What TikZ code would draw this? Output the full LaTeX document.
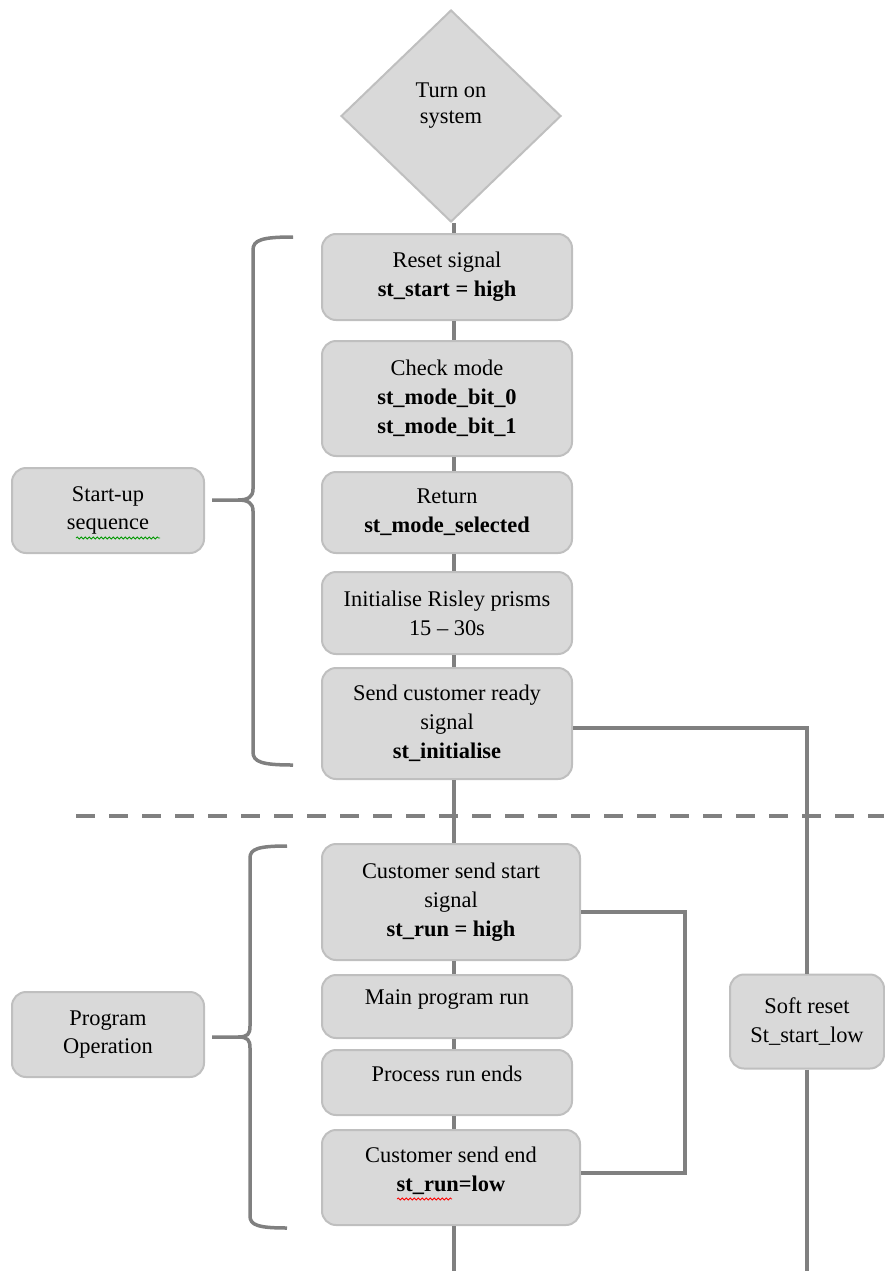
\documentclass[tikz,border=0pt]{standalone}
\usepackage{fontspec}
\setmainfont{Liberation Serif}
\usetikzlibrary{shapes.geometric,decorations.pathmorphing}
\definecolor{boxfill}{HTML}{D9D9D9}
\definecolor{boxline}{HTML}{BFBFBF}
\definecolor{wirecol}{HTML}{808080}
\begin{document}
\begin{tikzpicture}[x=1pt,y=-1pt,
  stepbox/.style={draw=boxline, line width=2pt, fill=boxfill, rounded corners=14pt,
    align=center, inner sep=0pt, text=black,
    font=\fontsize{22.4}{28.8}\selectfont},
  wire/.style={draw=wirecol, line width=4pt, line join=miter},
  bracewire/.style={draw=wirecol, line width=3.5pt, line join=round},
  squiggle/.style={line width=0.8pt, decorate,
    decoration={snake, segment length=4pt, amplitude=1pt}},
]
\useasboundingbox (0,0) rectangle (884,1271);

% separator between the two phases
\coordinate (sepL) at (76,816);
\coordinate (sepR) at (884,816);
\draw[wire, dash pattern=on 19pt off 14pt] (sepL) -- (sepR);

% start node
\node[diamond, draw=boxline, line width=2pt, fill=boxfill,
      minimum width=220pt, minimum height=212pt, inner sep=0pt] (d) at (451,116) {};
\node[align=center, font=\fontsize{22.4}{26}\selectfont] (dt) at (451,106) {Turn on\\system};

% start-up steps
\node[stepbox, minimum width=250pt, minimum height=86pt] (r1) at (447,277)
  {Reset signal\\\textbf{st\_start = high}};
\node[stepbox, minimum width=250pt, minimum height=115pt] (r2) at (447,398.5)
  {Check mode\\\textbf{st\_mode\_bit\_0}\\\textbf{st\_mode\_bit\_1}};
\node[stepbox, minimum width=250pt, minimum height=81pt] (r3) at (447,512.5)
  {Return\\\textbf{st\_mode\_selected}};
\node[stepbox, minimum width=250pt, minimum height=82pt] (r4) at (447,613)
  {Initialise Risley prisms\\15 -- 30s};
\node[stepbox, minimum width=250pt, minimum height=111pt] (r5) at (447,723.5)
  {Send customer ready\\signal\\\textbf{st\_initialise}};

% operation steps
\node[stepbox, minimum width=258pt, minimum height=116pt] (c1) at (451,902)
  {Customer send start\\signal\\\textbf{st\_run = high}};
\node[stepbox, minimum width=250pt, minimum height=63pt] (c2) at (447,1006.5)
  {Main program run\\[-9pt]};
\node[stepbox, minimum width=250pt, minimum height=65pt] (c3) at (447,1082.5)
  {Process run ends\\[-12pt]};
\node[stepbox, minimum width=258pt, minimum height=95pt] (c4) at (451,1177.5)
  {Customer send end\\\textbf{st\_run=low}\\[-13pt]};

% phase labels
\node[stepbox, minimum width=192pt, minimum height=85pt] (su) at (108,510.5)
  {Start-up\\sequence};
\node[stepbox, minimum width=192pt, minimum height=85pt] (po) at (108,1034.5)
  {Program\\Operation};

% soft reset
\node[stepbox, minimum width=154pt, minimum height=94pt] (sr) at (807,1021.5)
  {Soft reset\\St\_start\_low};

% main flow
\coordinate (mbot) at (454,1271);
\draw[wire] (d.south -| mbot) -- (r1.north -| mbot);
\draw[wire] (r1.south -| mbot) -- (r2.north -| mbot);
\draw[wire] (r2.south -| mbot) -- (r3.north -| mbot);
\draw[wire] (r3.south -| mbot) -- (r4.north -| mbot);
\draw[wire] (r4.south -| mbot) -- (r5.north -| mbot);
\draw[wire] (r5.south -| mbot) -- (c1.north -| mbot);
\draw[wire] (c1.south -| mbot) -- (c2.north -| mbot);
\draw[wire] (c2.south -| mbot) -- (c3.north -| mbot);
\draw[wire] (c3.south -| mbot) -- (c4.north -| mbot);
\draw[wire] (c4.south -| mbot) -- (mbot);

% soft reset branch
\coordinate (k1) at (807,728);
\coordinate (sbot) at (807,1271);
\draw[wire] (r5.east |- k1) -- (k1) -- (sr.north);
\draw[wire] (sr.south) -- (sbot);

% run loop
\coordinate (k2) at (685,912);
\coordinate (k3) at (685,1173);
\draw[wire] (c1.east |- k2) -- (k2) -- (k3) -- (c4.east |- k3);

% braces
\draw[bracewire] (212,500) -- (238,500) .. controls (248,500) and (253,497) .. (253,489)
  -- (253,250) .. controls (253,240) and (262,237) .. (293,237);
\draw[bracewire] (238,500) .. controls (248,500) and (253,503) .. (253,511)
  -- (253,752) .. controls (253,762) and (262,765) .. (293,765);
\draw[bracewire] (212,1037) -- (238,1037) .. controls (248,1037) and (250,1034) .. (250,1026)
  -- (250,858) .. controls (250,849) and (258,846) .. (287,846);
\draw[bracewire] (238,1037) .. controls (248,1037) and (250,1040) .. (250,1048)
  -- (250,1216) .. controls (250,1225) and (258,1228) .. (287,1228);

% proofing marks
\draw[squiggle, draw=green!60!black] (76,538) -- (160,538);
\draw[squiggle, draw=red] (397,1199) -- (452,1199);
\end{tikzpicture}
\end{document}
